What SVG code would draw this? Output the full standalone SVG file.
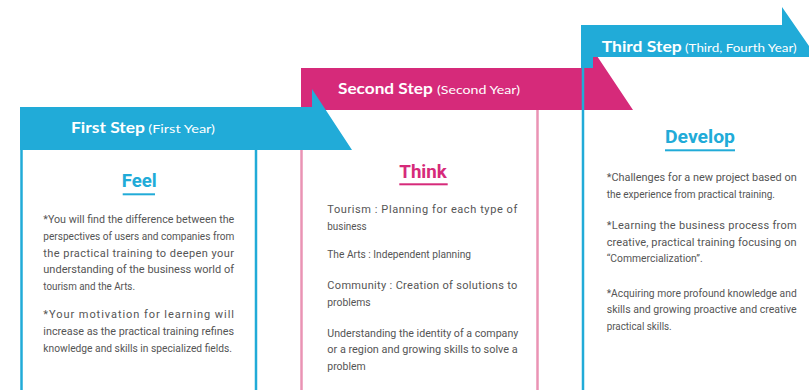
<svg xmlns="http://www.w3.org/2000/svg" width="809" height="390" viewBox="0 0 809 390">
<style>
.blue{fill:#21abd8}
.pink{fill:#d62a7a}
.lb{stroke:#21abd8;stroke-width:2.5;fill:none}
.lp{stroke:#ea93b4;stroke-width:2.5;fill:none}
.step{font-family:Lato,"Open Sans","Liberation Sans",sans-serif;font-weight:bold;font-size:16px;fill:#ffffff}
.year{font-family:Lato,"Open Sans","Liberation Sans",sans-serif;font-size:12px;fill:#ffffff}
.head{font-family:Roboto,"Liberation Sans",sans-serif;font-weight:bold;font-size:19px}
.body{font-family:Roboto,"Liberation Sans",sans-serif;font-size:11px;fill:#555555}
</style>
<rect width="809" height="390" fill="#ffffff"/>
<g id="connectors"></g>
<g id="step2">
<polygon class="pink" points="301,68 593,68 593,50 633,110 301,110"/>
<line class="lp" x1="301.5" y1="110" x2="301.5" y2="390"/>
<line class="lp" x1="537.5" y1="110" x2="537.5" y2="390"/>
<text class="step" x="338" y="94.3" textLength="94.7" lengthAdjust="spacingAndGlyphs">Second Step</text>
<text class="year" x="437" y="94.3" textLength="83" lengthAdjust="spacingAndGlyphs">(Second Year)</text>
<text class="head" x="399.3" y="177.5" fill="#d62a7a" textLength="47.5" lengthAdjust="spacingAndGlyphs">Think</text>
<rect x="399.3" y="183.3" width="48.4" height="2" fill="#d62a7a"/>
<text class="body" x="327.3" y="213.3" textLength="190" lengthAdjust="spacing">Tourism : Planning for each type of</text>
<text class="body" x="327.3" y="230" textLength="39.4" lengthAdjust="spacingAndGlyphs">business</text>
<text class="body" x="327.3" y="258.3" textLength="143.7" lengthAdjust="spacingAndGlyphs">The Arts : Independent planning</text>
<text class="body" x="327.3" y="289" textLength="190" lengthAdjust="spacing">Community : Creation of solutions to</text>
<text class="body" x="327.3" y="305.7" textLength="43.4" lengthAdjust="spacingAndGlyphs">problems</text>
<text class="body" x="327.3" y="336.7" textLength="191" lengthAdjust="spacingAndGlyphs">Understanding the identity of a company</text>
<text class="body" x="327.3" y="353.3" textLength="190.4" lengthAdjust="spacingAndGlyphs">or a region and growing skills to solve a</text>
<text class="body" x="327.3" y="370" textLength="38.4" lengthAdjust="spacingAndGlyphs">problem</text>
</g>
<g id="step3">
<polygon class="blue" points="581,25 782,25 782,7 809,46 809,57 593,57 593,68 581,68"/>
<line class="lb" x1="583" y1="60" x2="583" y2="390"/>
<text class="step" x="601.7" y="51.7" textLength="80" lengthAdjust="spacingAndGlyphs">Third Step</text>
<text class="year" x="685" y="51.7" textLength="111.7" lengthAdjust="spacingAndGlyphs">(Third, Fourth Year)</text>
<text class="head" x="665" y="143.3" fill="#21abd8" textLength="70" lengthAdjust="spacingAndGlyphs">Develop</text>
<rect x="665" y="149.3" width="70" height="2" fill="#21abd8"/>
<text class="body" x="606.7" y="181.3" textLength="190" lengthAdjust="spacingAndGlyphs">*Challenges for a new project based on</text>
<text class="body" x="606.7" y="198" textLength="168.3" lengthAdjust="spacingAndGlyphs">the experience from practical training.</text>
<text class="body" x="606.7" y="229" textLength="190" lengthAdjust="spacing">*Learning the business process from</text>
<text class="body" x="606.7" y="245.7" textLength="190" lengthAdjust="spacing">creative, practical training focusing on</text>
<text class="body" x="606.7" y="261.7" textLength="96" lengthAdjust="spacingAndGlyphs">“Commercialization”.</text>
<text class="body" x="606.7" y="296.7" textLength="190" lengthAdjust="spacingAndGlyphs">*Acquiring more profound knowledge and</text>
<text class="body" x="606.7" y="313.3" textLength="190" lengthAdjust="spacingAndGlyphs">skills and growing proactive and creative</text>
<text class="body" x="606.7" y="330" textLength="65" lengthAdjust="spacingAndGlyphs">practical skills.</text>
</g>
<g id="step1">
<polygon class="blue" points="20,107 312,107 312,89 352,150 20,150"/>
<line class="lb" x1="21.5" y1="150" x2="21.5" y2="390"/>
<line class="lb" x1="256" y1="150" x2="256" y2="390"/>
<text class="step" x="71" y="133.3" textLength="74" lengthAdjust="spacingAndGlyphs">First Step</text>
<text class="year" x="148.3" y="133.3" textLength="66.7" lengthAdjust="spacingAndGlyphs">(First Year)</text>
<text class="head" x="121.7" y="186.7" fill="#21abd8" textLength="35" lengthAdjust="spacingAndGlyphs">Feel</text>
<rect x="122.7" y="193.3" width="32.3" height="2" fill="#21abd8"/>
<text class="body" x="43.3" y="223.3" textLength="191" lengthAdjust="spacingAndGlyphs">*You will find the difference between the</text>
<text class="body" x="43.3" y="240" textLength="191" lengthAdjust="spacingAndGlyphs">perspectives of users and companies from</text>
<text class="body" x="43.3" y="256.7" textLength="190.7" lengthAdjust="spacing">the practical training to deepen your</text>
<text class="body" x="43.3" y="273.3" textLength="190.7" lengthAdjust="spacingAndGlyphs">understanding of the business world of</text>
<text class="body" x="43.3" y="290" textLength="91.7" lengthAdjust="spacingAndGlyphs">tourism and the Arts.</text>
<text class="body" x="43.3" y="318.3" textLength="190.7" lengthAdjust="spacing">*Your motivation for learning will</text>
<text class="body" x="43.3" y="335" textLength="190.7" lengthAdjust="spacingAndGlyphs">increase as the practical training refines</text>
<text class="body" x="43.3" y="351.7" textLength="188.7" lengthAdjust="spacingAndGlyphs">knowledge and skills in specialized fields.</text>
</g>
</svg>
